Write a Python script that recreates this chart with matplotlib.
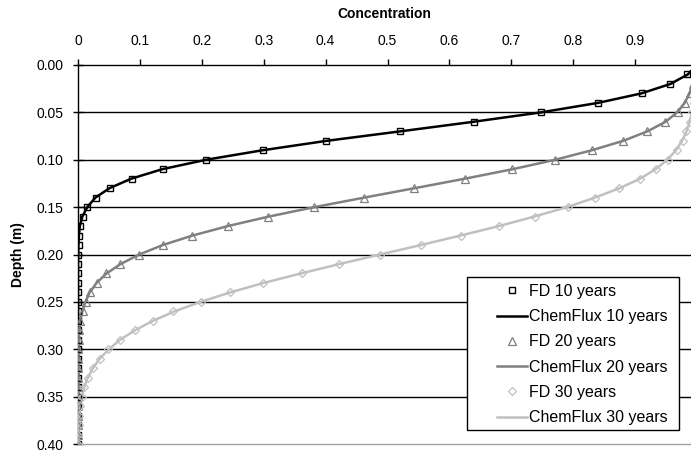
import matplotlib
matplotlib.use("Agg")
import matplotlib.pyplot as plt
from matplotlib.lines import Line2D
from matplotlib.patches import Rectangle

plt.rcParams['font.family'] = ['Liberation Sans', 'DejaVu Sans']

depth = [0.00, 0.01, 0.02, 0.03, 0.04, 0.05, 0.06, 0.07, 0.08, 0.09,
         0.10, 0.11, 0.12, 0.13, 0.14, 0.15, 0.16, 0.17, 0.18, 0.19,
         0.20, 0.21, 0.22, 0.23, 0.24, 0.25, 0.26, 0.27, 0.28, 0.29,
         0.30, 0.31, 0.32, 0.33, 0.34, 0.35, 0.36, 0.37, 0.38, 0.39, 0.40]

fd_10 = [1.000, 0.984, 0.956, 0.911, 0.840, 0.748, 0.639, 0.521, 0.401, 0.299,
         0.207, 0.137, 0.087, 0.052, 0.029, 0.015, 0.008, 0.004, 0.002, 0.001,
         0.0, 0.0, 0.0, 0.0, 0.0, 0.0, 0.0, 0.0, 0.0, 0.0,
         0.0, 0.0, 0.0, 0.0, 0.0, 0.0, 0.0, 0.0, 0.0, 0.0, 0.0]
cf_10 = [1.000, 0.985, 0.957, 0.910, 0.840, 0.748, 0.638, 0.521, 0.402, 0.298,
         0.207, 0.136, 0.086, 0.051, 0.028, 0.015, 0.007, 0.003, 0.0015, 0.0007,
         0.0003, 0.0, 0.0, 0.0, 0.0, 0.0, 0.0, 0.0, 0.0, 0.0,
         0.0, 0.0, 0.0, 0.0, 0.0, 0.0, 0.0, 0.0, 0.0, 0.0, 0.0]

fd_20 = [1.000, 0.997, 0.993, 0.988, 0.981, 0.969, 0.948, 0.919, 0.880, 0.830,
         0.771, 0.701, 0.625, 0.543, 0.462, 0.382, 0.307, 0.243, 0.184, 0.137,
         0.098, 0.068, 0.046, 0.030, 0.019, 0.013, 0.008, 0.004, 0.002, 0.001,
         0.0005, 0.0, 0.0, 0.0, 0.0, 0.0, 0.0, 0.0, 0.0, 0.0, 0.0]
cf_20 = [1.000, 0.997, 0.993, 0.988, 0.980, 0.968, 0.949, 0.920, 0.881, 0.830,
         0.771, 0.702, 0.625, 0.544, 0.462, 0.382, 0.308, 0.242, 0.185, 0.137,
         0.099, 0.069, 0.046, 0.030, 0.019, 0.012, 0.007, 0.004, 0.002, 0.001,
         0.0005, 0.0, 0.0, 0.0, 0.0, 0.0, 0.0, 0.0, 0.0, 0.0, 0.0]

fd_30 = [1.000, 0.999, 0.998, 0.997, 0.995, 0.992, 0.988, 0.983, 0.977, 0.967,
         0.953, 0.934, 0.908, 0.874, 0.835, 0.792, 0.738, 0.680, 0.619, 0.554,
         0.488, 0.422, 0.362, 0.299, 0.246, 0.199, 0.154, 0.121, 0.092, 0.068,
         0.049, 0.036, 0.024, 0.016, 0.009, 0.006, 0.003, 0.002, 0.001, 0.0005, 0.0]
cf_30 = [1.000, 0.999, 0.998, 0.997, 0.995, 0.992, 0.988, 0.983, 0.976, 0.966,
         0.952, 0.933, 0.908, 0.875, 0.835, 0.790, 0.737, 0.680, 0.618, 0.554,
         0.488, 0.423, 0.360, 0.300, 0.246, 0.198, 0.156, 0.121, 0.092, 0.068,
         0.050, 0.035, 0.024, 0.016, 0.010, 0.006, 0.004, 0.002, 0.001, 0.0005, 0.0]

x_ticks = [0, 0.1, 0.2, 0.3, 0.4, 0.5, 0.6, 0.7, 0.8, 0.9]
x_tick_labels = ['0', '0.1', '0.2', '0.3', '0.4', '0.5', '0.6', '0.7', '0.8', '0.9']
y_ticks = [0.00, 0.05, 0.10, 0.15, 0.20, 0.25, 0.30, 0.35, 0.40]
labels = ['FD 10 years', 'ChemFlux 10 years', 'FD 20 years',
          'ChemFlux 20 years', 'FD 30 years', 'ChemFlux 30 years']

c10, c20, c30 = '#000000', '#808080', '#c0c0c0'

W, H = 691, 451
L, R, T, B = 78, 691, 65, 444
fig = plt.figure(figsize=(W / 100, H / 100), dpi=100)
ax = fig.add_axes([L / W, 1 - B / H, (R - L) / W, (B - T) / H])
aw, ah = R - L, B - T

for yv in y_ticks[1:-1]:
    ax.axhline(yv, color='black', lw=1.0, zorder=1)

ax.plot(cf_10, depth, color=c10, lw=1.8, zorder=3)
ax.plot(fd_10, depth, ls='none', marker='s', ms=5, mfc='none', mec=c10, mew=1.0, zorder=4)
ax.plot(cf_20, depth, color=c20, lw=1.8, zorder=3)
ax.plot(fd_20, depth, ls='none', marker='^', ms=6, mfc='none', mec=c20, mew=0.9, zorder=4)
ax.plot(cf_30, depth, color=c30, lw=1.8, zorder=3)
ax.plot(fd_30, depth, ls='none', marker='D', ms=4, mfc='none', mec=c30, mew=0.9, zorder=4)

ax.set_xlim(0, (R - L) / 619)
ax.set_ylim(0.40, 0.0)

ax.xaxis.set_ticks_position('top')
ax.xaxis.set_label_position('top')
ax.set_xticks(x_ticks)
ax.set_xticklabels(x_tick_labels)
ax.set_yticks(y_ticks)
ax.set_yticklabels([f'{v:.2f}' for v in y_ticks])
ax.tick_params(axis='x', direction='out', length=4, width=1, pad=8, labelsize=10, colors='black')
ax.tick_params(axis='y', direction='inout', length=7, width=1, pad=7, labelsize=10, colors='black')

ax.set_xlabel('Concentration', fontweight='bold', fontsize=10, labelpad=12)
ax.set_ylabel('Depth (m)', fontweight='bold', fontsize=10, labelpad=8)

ax.spines['right'].set_visible(False)
ax.spines['top'].set_color('black')
ax.spines['left'].set_color('black')
ax.spines['bottom'].set_color('#a0a0a0')
for s in ax.spines.values():
    s.set_linewidth(1.0)

# legend frame
ax.add_patch(Rectangle(((467 - L) / aw, (B - 430) / ah), (679 - 467) / aw, (430 - 277) / ah,
                       transform=ax.transAxes, facecolor='white', edgecolor='black',
                       lw=1.0, zorder=9, clip_on=False))

handles = [
    Line2D([], [], ls='none', marker='s', ms=5, mfc='none', mec=c10, mew=1.0),
    Line2D([], [], color=c10, lw=1.8),
    Line2D([], [], ls='none', marker='^', ms=6, mfc='none', mec=c20, mew=0.9),
    Line2D([], [], color=c20, lw=1.8),
    Line2D([], [], ls='none', marker='D', ms=4, mfc='none', mec=c30, mew=0.9),
    Line2D([], [], color=c30, lw=1.8),
]
leg = ax.legend(handles, labels, loc='upper left',
                bbox_to_anchor=((497 - L) / aw, (B - 284) / ah),
                frameon=False, fontsize=11.5, handlelength=1.9, handletextpad=0.1,
                labelspacing=0.64, borderpad=0, borderaxespad=0)
leg.set_zorder(10)

fig.savefig('out.png', dpi=100)
